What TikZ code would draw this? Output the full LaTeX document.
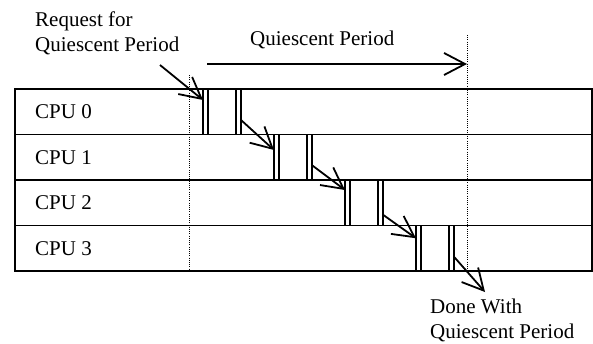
\documentclass[tikz,border=0pt]{standalone}
\usepackage{fontspec}
\setmainfont{Liberation Serif}
\usetikzlibrary{arrows.meta}
\begin{document}
\begin{tikzpicture}[x=1pt,y=-1pt,
  rowbox/.style={draw, line width=1.8pt, rectangle, minimum width=577pt, minimum height=45.5pt, inner sep=0pt, outer sep=0pt, anchor=north west},
  bar/.style={draw, line width=1.8pt, rectangle, minimum width=5pt, minimum height=45.5pt, inner sep=0pt, outer sep=0pt, anchor=north west},
  lbl/.style={font=\fontsize{21}{24.7}\selectfont, inner sep=0pt},
  tip/.style={-{Straight Barb[length=21pt,width=22pt]}, line width=1.8pt},
  vdots/.style={line width=0.9pt, dash pattern=on 1pt off 1.2pt}]
\useasboundingbox (0,0) rectangle (593,343);

% rows
\node[rowbox] (cpu0) at (15,89) {};
\node[rowbox] (cpu1) at (15,134.5) {};
\node[rowbox] (cpu2) at (15,180) {};
\node[rowbox] (cpu3) at (15,225.5) {};
\node[lbl, anchor=west] (l0) at ([xshift=20pt]cpu0.west) {CPU 0};
\node[lbl, anchor=west] (l1) at ([xshift=20pt]cpu1.west) {CPU 1};
\node[lbl, anchor=west] (l2) at ([xshift=20pt]cpu2.west) {CPU 2};
\node[lbl, anchor=west] (l3) at ([xshift=20pt]cpu3.west) {CPU 3};

% bars
\node[bar] (b0a) at (203,89) {};
\node[bar] (b0b) at (236,89) {};
\node[bar] (b1a) at (274,134.5) {};
\node[bar] (b1b) at (307,134.5) {};
\node[bar] (b2a) at (345,180) {};
\node[bar] (b2b) at (378,180) {};
\node[bar] (b3a) at (416,225.5) {};
\node[bar] (b3b) at (449,225.5) {};

% dotted lines
\coordinate (d1t) at (189,75);
\coordinate (d1b) at (189,273);
\coordinate (d2t) at (467,35);
\coordinate (d2b) at (467,270);
\draw[vdots] (d1t) -- (d1b);
\draw[vdots] (d2t) -- (d2b);

% quiescent period arrow
\coordinate (qs) at (207,64);
\coordinate (qe) at (467,64);
\draw[tip] (qs) -- (qe);
\node[lbl, anchor=base west] (qp) at (250,45) {Quiescent Period};

% request
\node[lbl, anchor=north west, align=left] (req) at (35,11.7) {Request for\\Quiescent Period};
\coordinate (rs) at (160,65);
\draw[tip] (rs) -- ([yshift=11.75pt]b0a.west);

% chain arrows
\draw[tip] ([yshift=-8.25pt]b0b.east) -- ([yshift=7.25pt]b1a.west);
\draw[tip] ([yshift=-8pt]b1b.east) -- ([yshift=12.75pt]b2a.west);
\draw[tip] ([yshift=-12pt]b2b.east) -- ([yshift=10pt]b3a.west);

% done
\coordinate (de) at (485,292);
\draw[tip] ([yshift=-8.5pt]b3b.east) -- (de);
\node[lbl, anchor=north west, align=left] (done) at (430,298.7) {Done With\\Quiescent Period};
\end{tikzpicture}
\end{document}
